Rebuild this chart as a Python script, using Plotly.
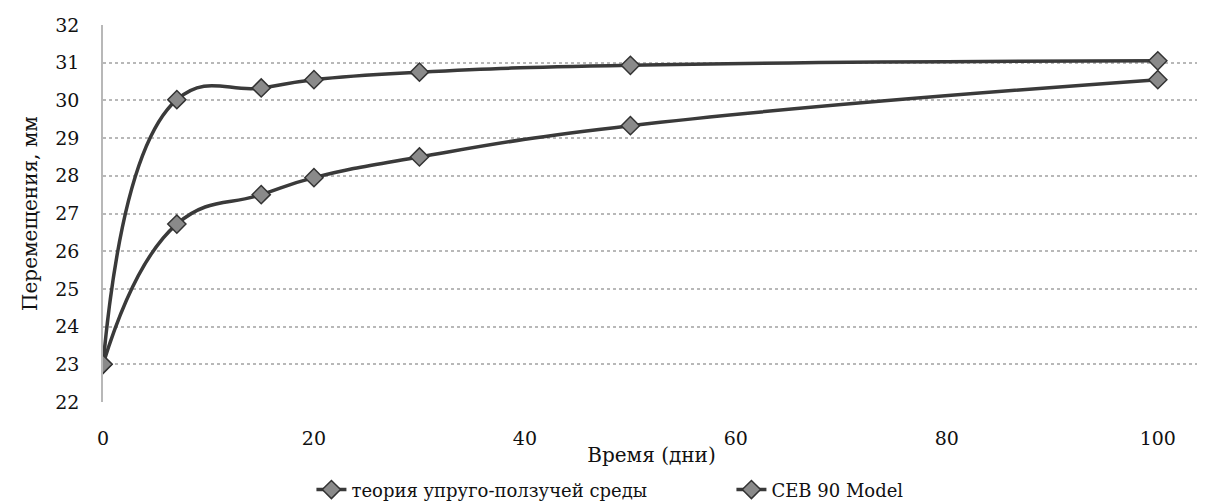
import plotly.graph_objects as go

days = [0, 7, 15, 20, 30, 50, 100]
theory = [23.0, 30.02, 30.33, 30.55, 30.75, 30.93, 31.05]
ceb90 = [23.0, 26.72, 27.5, 27.95, 28.5, 29.33, 30.55]
names = ["теория упруго-ползучей среды", "CEB 90 Model"]

font = "DejaVu Serif"
fig = go.Figure()
for name, ys in zip(names, [theory, ceb90]):
    fig.add_trace(go.Scatter(
        x=days, y=ys, name=name, mode="lines+markers",
        line=dict(color="#3a3a3a", width=3.5, shape="spline", smoothing=1.3),
        marker=dict(symbol="diamond", size=14, color="#8a8a8a",
                    line=dict(color="#333", width=1.5)),
    ))

fig.update_layout(
    width=1197, height=495,
    margin=dict(l=95, r=5, t=17, b=101, autoexpand=False),
    paper_bgcolor="white", plot_bgcolor="white",
    font=dict(family=font, size=19, color="#111"),
    showlegend=True,
    legend=dict(orientation="h", x=0.19, xanchor="left", y=-0.233, yanchor="middle",
                entrywidth=375, entrywidthmode="pixels",
                font=dict(family=font, size=18), traceorder="normal"),
)
fig.update_xaxes(range=[0, 104], tickvals=[0, 20, 40, 60, 80, 100],
                 showgrid=False, zeroline=False, showline=False,
                 ticks="outside", ticklen=19, tickcolor="rgba(0,0,0,0)",
                 title=dict(text="Время (дни)", standoff=0,
                            font=dict(family=font, size=20)))
fig.update_yaxes(range=[22, 32], dtick=1, showgrid=True,
                 gridcolor="#b8b8b8", griddash="dot", gridwidth=1.5,
                 zeroline=False, showline=True, linecolor="#b8b8b8",
                 linewidth=1.5, ticks="outside", ticklen=18,
                 tickcolor="rgba(0,0,0,0)",
                 title=dict(text="Перемещения, мм", standoff=12,
                            font=dict(family=font, size=20)))
fig.write_html("out.html")
